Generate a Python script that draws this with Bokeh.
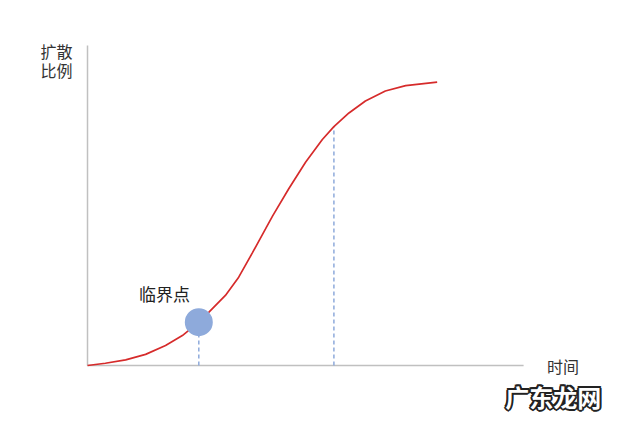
from bokeh.plotting import figure
from bokeh.models import Range1d
from bokeh.core.properties import value
from bokeh.embed import file_html
from bokeh.resources import INLINE

# S-curve (time vs diffusion ratio %)
time = [0.0, 0.51, 1.09, 1.66, 2.23, 2.71, 3.18, 3.47, 3.94, 4.32, 4.71, 5.09,
        5.29, 5.75, 6.23, 6.71, 7.04, 7.47, 7.94, 8.51, 9.09, 9.99]
ratio = [0.0, 0.8, 2.0, 3.9, 7.0, 10.5, 15.2, 18.7, 24.6, 31.0, 39.5, 48.0,
         52.5, 62.0, 71.3, 79.3, 83.8, 88.6, 92.8, 96.3, 98.2, 99.4]

critical_t = [3.18]
critical_y = [15.2]
marker_t = [3.18, 7.04]
marker_y = [15.2, 83.8]

x_axis_end = 12.46
y_axis_end = 112.3

y_title = ["扩散", "比例"]
x_title = "时间"
critical_label = "临界点"
watermark = "广东龙网"

FONT = value("Noto Sans CJK SC")

p = figure(width=640, height=426, output_backend="svg", toolbar_location=None,
           x_axis_type=None, y_axis_type=None,
           x_range=Range1d(-2.486, 15.8), y_range=Range1d(-21.40, 128.07),
           min_border=0, min_border_left=0, min_border_right=0,
           min_border_top=0, min_border_bottom=0)
p.outline_line_color = None
p.background_fill_color = "white"
p.border_fill_color = "white"

# axis lines
p.segment(x0=[0, 0], y0=[0, 0], x1=[x_axis_end, 0], y1=[0, y_axis_end],
          line_color="#c0c0c0", line_width=1.5)

# dashed guides
p.segment(x0=marker_t, y0=[0, 0], x1=marker_t, y1=marker_y,
          line_color="#8eaadb", line_width=1.5, line_dash="4 3")

# curve
p.line(time, ratio, line_color="#d62b2b", line_width=1.7)

# critical point
p.scatter(critical_t, critical_y, size=28, fill_color="#8eaadb", line_color=None)

# texts
p.text(x=[-0.886, -0.886], y=[110.35, 103.7], text=y_title, text_font=FONT,
       text_font_size="16px", text_color="#333333", text_align="center",
       text_baseline="middle")
p.text(x=[13.586], y=[-0.18], text=[x_title], text_font=FONT,
       text_font_size="16px", text_color="#333333", text_align="center",
       text_baseline="middle")
p.text(x=[2.2], y=[25.2], text=[critical_label], text_font=FONT,
       text_font_size="17px", text_color="#222222", text_align="center",
       text_baseline="middle")

# watermark: dark outline made of offset copies, white fill on top
wx, wy = [13.31], [-10.7]
for dx, dy in [(-2, 0), (2, 0), (0, -2), (0, 2), (-1.5, -1.5), (1.5, 1.5), (-1.5, 1.5), (1.5, -1.5)]:
    p.text(x=wx, y=wy, text=[watermark], text_font=FONT, x_offset=dx, y_offset=dy,
           text_font_size="24px", text_font_style="bold", text_color="#222222",
           text_align="center", text_baseline="middle")
p.text(x=wx, y=wy, text=[watermark], text_font=FONT,
       text_font_size="24px", text_font_style="bold", text_color="white",
       text_align="center", text_baseline="middle")

open("out.html", "w").write(file_html(p, INLINE))
